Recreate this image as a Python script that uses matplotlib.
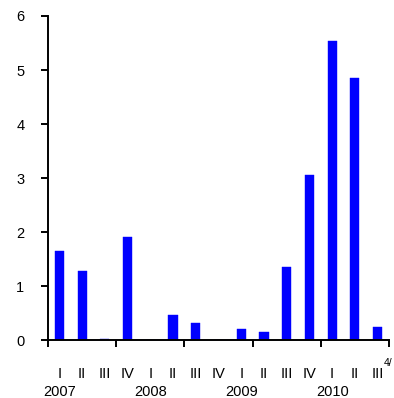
import matplotlib
matplotlib.use("Agg")
import matplotlib.pyplot as plt
import matplotlib.transforms as mtransforms

plt.rcParams['font.family'] = ['Liberation Sans', 'DejaVu Sans']

quarters = ["I", "II", "III", "IV", "I", "II", "III", "IV",
            "I", "II", "III", "IV", "I", "II", "III"]
years = ["2007", "2008", "2009", "2010"]
values = [1.64, 1.28, 0.01, 1.91, 0.0, 0.47, 0.32, 0.0,
          0.21, 0.14, 1.35, 3.05, 5.53, 4.86, 0.25]
yticks = [0, 1, 2, 3, 4, 5, 6]

fig = plt.figure(figsize=(3.94, 3.98), dpi=100)
ax = fig.add_axes([0.1218, 0.1457, 0.8655, 0.8141])

x = list(range(len(values)))
ax.bar(x, values, width=0.4, color="#0000ff", edgecolor="#0000ff", linewidth=0.3)

ax.set_xlim(-0.5, len(values) - 0.5)
ax.set_ylim(0, 6)
ax.set_yticks(yticks)
ax.set_yticklabels([str(v) for v in yticks], fontsize=10.5)

# major ticks every three quarters, without labels
ax.set_xticks([i - 0.5 for i in range(0, len(values) + 1, 3)])
ax.set_xticklabels([])
ax.tick_params(axis="x", direction="out", length=5, width=1.4)
ax.tick_params(axis="y", direction="out", length=5, width=1.4, pad=12)

for s in ["top", "right"]:
    ax.spines[s].set_visible(False)
for s in ["left", "bottom"]:
    ax.spines[s].set_linewidth(1.4)

trans = mtransforms.blended_transform_factory(ax.transData, ax.transAxes)
for i, q in enumerate(quarters):
    ax.text(i, -0.105, q, transform=trans, ha="center", va="center", fontsize=10.5)
for k, yr in enumerate(years):
    ax.text(4 * k, -0.16, yr, transform=trans, ha="center", va="center", fontsize=10.5)
ax.text(len(values) - 0.5 - 0.05, -0.07, "4/", transform=trans, ha="center",
        va="center", fontsize=7.5)

fig.savefig("out.png", dpi=100)
